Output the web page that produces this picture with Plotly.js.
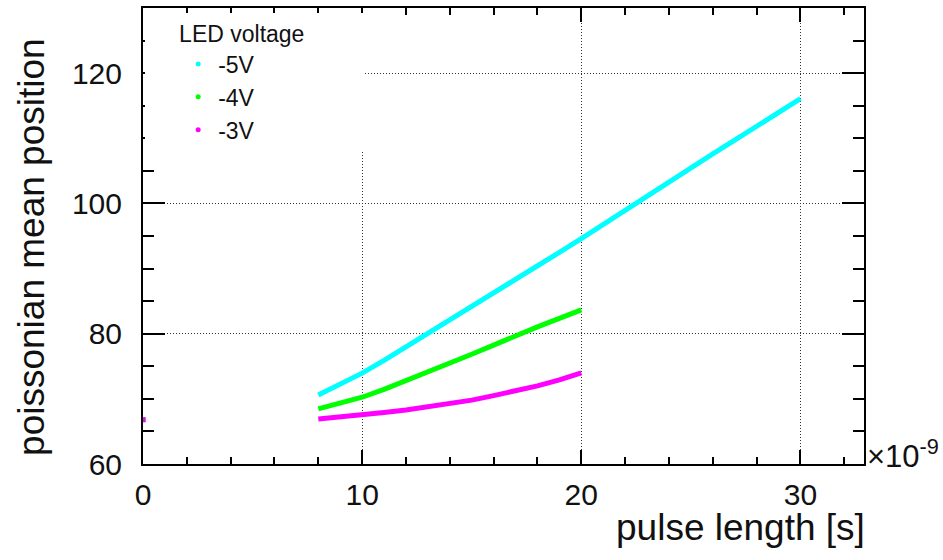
<!DOCTYPE html>
<html>
<head>
<meta charset="utf-8">
<script src="https://cdn.plot.ly/plotly-3.0.1.min.js"></script>
<style>html,body{margin:0;padding:0;background:#fff;}#chart{width:943px;height:560px;}</style>
</head>
<body>
<div id="chart"></div>
<script>
// pulse length in units of 1e-9 s
const pulseX5 = [8, 9, 10, 11, 12, 13, 14, 15, 16, 17, 18, 19, 20, 21, 22, 23, 24, 25, 26, 27, 28, 29, 30];
const mean5V  = [70.6, 72.2, 73.95, 75.9, 77.95, 80.0, 82.1, 84.2, 86.3, 88.3, 90.4, 92.5, 94.6, 96.8, 99.0, 101.2, 103.3, 105.4, 107.6, 109.7, 111.8, 114.0, 116.1];
const pulseX4 = [8, 9, 10, 11, 12, 13, 14, 15, 16, 17, 18, 19, 20];
const mean4V  = [68.45, 69.3, 70.25, 71.45, 72.75, 74.1, 75.45, 76.85, 78.25, 79.7, 81.05, 82.35, 83.65];
const pulseX3 = [8, 9, 10, 11, 12, 13, 14, 15, 16, 17, 18, 19, 20];
const mean3V  = [66.9, 67.2, 67.5, 67.9, 68.3, 68.8, 69.3, 69.8, 70.5, 71.2, 72.0, 72.9, 74.0];
// zero-length pulse point (pedestal)
const pedX = [0];
const pedY = [66.8];

const seriesNames = ['-5V', '-4V', '-3V'];
const seriesColors = ['#00FFFF', '#00FF00', '#FF00FF'];
const legendTitle = 'LED voltage';
const xTitle = 'pulse length [s]';
const yTitle = 'poissonian mean position';

const font = 'Liberation Sans, Arial, Helvetica, sans-serif';
const xs = [pulseX5, pulseX4, pulseX3];
const ys = [mean5V, mean4V, mean3V];

const traces = [];
for (let i = 0; i < 3; i++) {
  traces.push({x: pedX, y: pedY, mode: 'markers', showlegend: false, hoverinfo: 'skip',
    marker: {color: seriesColors[i], size: 5, symbol: 'square'}});
}
for (let i = 0; i < 3; i++) {
  traces.push({x: xs[i], y: ys[i], mode: 'lines', showlegend: false,
    line: {color: seriesColors[i], width: 5}});
}
for (let i = 0; i < 3; i++) {
  traces.push({x: [null], y: [null], mode: 'markers', name: seriesNames[i], legendgroup: 'g' + i,
    marker: {color: seriesColors[i], size: 5}});
}

const axisCommon = {
  showline: true, linecolor: '#000', linewidth: 2, mirror: 'allticks',
  ticks: 'inside', tickcolor: '#000', tickwidth: 2,
  showgrid: true, gridcolor: '#333', gridwidth: 1, griddash: '1px,2px',
  zeroline: false,
  tickfont: {family: font, size: 30, color: '#111'}
};

const nb = '\u00a0';
const layout = {
  width: 943, height: 560,
  margin: {l: 143, r: 79, t: 8, b: 96},
  paper_bgcolor: '#fff', plot_bgcolor: '#fff',
  font: {family: font, color: '#111'},
  xaxis: Object.assign({}, axisCommon, {
    range: [0, 32.9], dtick: 10, tick0: 0, ticklen: 14, ticklabelstandoff: 3,
    minor: {dtick: 2, ticklen: 7, tickwidth: 2, tickcolor: '#000', showgrid: false, ticks: 'inside'}
  }),
  yaxis: Object.assign({}, axisCommon, {
    range: [60, 130], dtick: 20, tick0: 60, ticklen: 22, ticklabelstandoff: 13,
    minor: {dtick: 5, ticklen: 11, tickwidth: 2, tickcolor: '#000', showgrid: false, ticks: 'inside'}
  }),
  showlegend: true,
  legend: {
    x: 0.003, y: 0.99, xanchor: 'left', yanchor: 'top',
    bgcolor: '#fff', borderwidth: 0,
    font: {family: font, size: 23, color: '#111'},
    title: {text: nb.repeat(5) + legendTitle + nb.repeat(9), font: {family: font, size: 23, color: '#111'}},
    indentation: 33, tracegroupgap: 0
  },
  annotations: [
    {text: xTitle, xref: 'paper', yref: 'paper', x: 1, y: 0, xanchor: 'right', yanchor: 'middle',
      xshift: 3, yshift: -63, showarrow: false, font: {family: font, size: 37, color: '#111'}},
    {text: yTitle, xref: 'paper', yref: 'paper', x: 0, y: 0.476, xanchor: 'center', yanchor: 'middle',
      xshift: -111, textangle: -90, showarrow: false, font: {family: font, size: 37, color: '#111'}},
    {text: '\u00d710<sup>-9</sup>', xref: 'paper', yref: 'paper', x: 1, y: 0, xanchor: 'left', yanchor: 'middle',
      xshift: 1, yshift: 10, showarrow: false, font: {family: font, size: 31, color: '#111'}}
  ]
};

Plotly.newPlot('chart', traces, layout, {displayModeBar: false, staticPlot: true});
</script>
</body>
</html>
